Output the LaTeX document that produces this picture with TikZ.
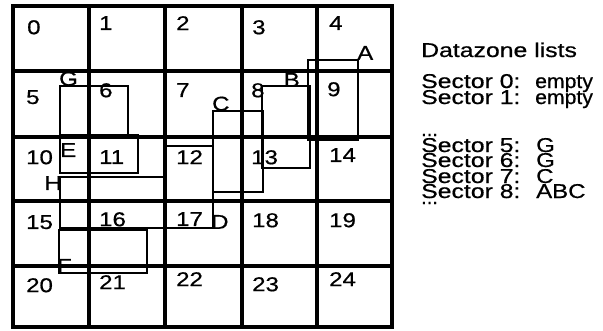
\documentclass[tikz,border=0pt]{standalone}
\usepackage{fontspec}
\setmainfont{Liberation Sans}[FakeBold=0.6]
\newcommand{\hs}[1]{\scalebox{1.2}[1]{#1}}
\newcommand{\hsw}[1]{\scalebox{1.24}[1]{#1}}
\tikzset{
  gridline/.style={line width=3.6pt, line cap=rect},
  objbox/.style={line width=2.6pt},
  lbl/.style={inner sep=0pt, font=\fontsize{20}{20}\selectfont},
}
\begin{document}
\begin{tikzpicture}[x=1pt,y=-1pt]
\useasboundingbox (0,0) rectangle (603,330);
% grid
\draw[gridline] (13,6) rectangle (392,327);
\foreach \x in {89,165,242,317} \draw[gridline] (\x,6) -- (\x,327);
\foreach \y in {71,137,201,266} \draw[gridline] (13,\y) -- (392,\y);
% cell numbers
\foreach \n/\x/\y in {0/27/20, 1/99/16, 2/176/16, 3/252/20, 4/329/16,
  5/26/90, 6/99/83, 7/176/83, 8/251/83, 9/327/82,
  10/26/150, 11/99/150, 12/176/150, 13/251/150, 14/329/148,
  15/26/215, 16/99/212, 17/176/212, 18/252/213, 19/329/213,
  20/26/278, 21/99/275, 22/176/272, 23/252/277, 24/329/272}
  \node[lbl, anchor=north west] (c\n) at (\x,\y) {\hs{\n}};
% object rectangles
\draw[objbox] (308,60) rectangle (358,140);
\draw[objbox] (262,86) rectangle (310,168);
\draw[objbox] (213,111) rectangle (263,192);
\draw[objbox] (165,146) rectangle (213,228);
\draw[objbox] (60,135) rectangle (138,173);
\draw[objbox] (59,230) rectangle (147,273);
\draw[objbox] (60,86) rectangle (128,135);
\draw[objbox] (60,177) rectangle (164,228);
% object labels
\node[lbl, anchor=south west] (lA) at (357,60) {\hs{A}};
\node[lbl, anchor=south east] (lB) at (300,87) {\hs{B}};
\node[lbl, anchor=south west] (lC) at (212,111) {\hs{C}};
\node[lbl, anchor=south west] (lD) at (211,229) {\hs{D}};
\node[lbl, anchor=north west] (lE) at (60,143) {\hs{E}};
\node[lbl, anchor=south west] (lF) at (57,273) {\hs{F}};
\node[lbl, anchor=south west] (lG) at (59,86) {\hs{G}};
\node[lbl, anchor=north east] (lH) at (62,176) {\hs{H}};
% datazone lists
\node[lbl, anchor=base west] (title) at (421,57) {\hsw{Datazone lists}};
\node[lbl, anchor=base west] (s0) at (421,88) {\hsw{Sector 0:}};
\node[lbl, anchor=base west] (v0) at (535,88) {\scalebox{1.06}[1]{empty}};
\node[lbl, anchor=base west] (s1) at (421,104) {\hsw{Sector 1:}};
\node[lbl, anchor=base west] (v1) at (535,104) {\scalebox{1.06}[1]{empty}};
\node[lbl, anchor=base west] (d1) at (421,136) {...};
\node[lbl, anchor=base west] (s5) at (421,152) {\hsw{Sector 5:}};
\node[lbl, anchor=base west] (v5) at (536,152) {\hs{G}};
\node[lbl, anchor=base west] (s6) at (421,167) {\hsw{Sector 6:}};
\node[lbl, anchor=base west] (v6) at (536,167) {\hs{G}};
\node[lbl, anchor=base west] (s7) at (421,183) {\hsw{Sector 7:}};
\node[lbl, anchor=base west] (v7) at (536,183) {\hs{C}};
\node[lbl, anchor=base west] (s8) at (421,198) {\hsw{Sector 8:}};
\node[lbl, anchor=base west] (v8) at (536,198) {\hs{ABC}};
\node[lbl, anchor=base west] (d2) at (421,204) {...};
\end{tikzpicture}
\end{document}
